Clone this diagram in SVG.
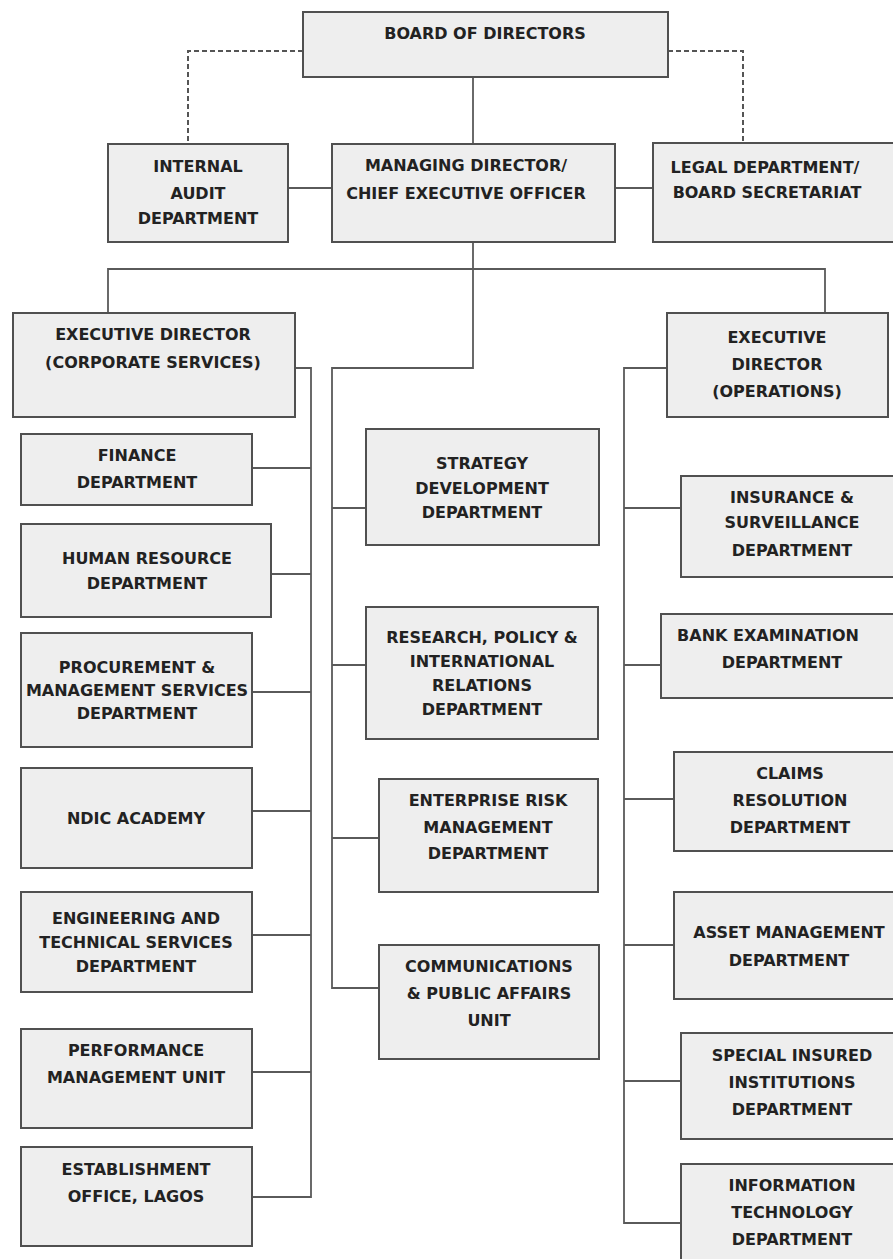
<svg xmlns="http://www.w3.org/2000/svg" width="893" height="1259" viewBox="0 0 893 1259">
<style>
.box{fill:#eeeeee;stroke:#505050;stroke-width:2}
.t{font-family:"DejaVu Sans","Verdana",sans-serif;font-weight:bold;font-size:16px;fill:#222;text-anchor:middle}
.c{fill:none;stroke:#5a5a5a;stroke-width:1.8}
.d{fill:none;stroke:#555;stroke-width:2;stroke-dasharray:5 3}
</style>
<rect width="893" height="1259" fill="#ffffff"/>
<g id="connectors">
<path class="d" d="M303,51 H188 V144"/>
<path class="d" d="M668,51 H743 V143"/>
<path class="c" d="M473,77 V144"/>
<path class="c" d="M288,188 H332"/>
<path class="c" d="M615,188 H653"/>
<path class="c" d="M473,242 V368 H332 V988 H379"/>
<path class="c" d="M108,313 V269 H825 V313"/>
<path class="c" d="M295,368 H311 V1197 H252"/>
<path class="c" d="M252,468 H311"/>
<path class="c" d="M271,574 H311"/>
<path class="c" d="M252,692 H311"/>
<path class="c" d="M252,811 H311"/>
<path class="c" d="M252,935 H311"/>
<path class="c" d="M252,1072 H311"/>
<path class="c" d="M332,508 H366"/>
<path class="c" d="M332,665 H366"/>
<path class="c" d="M332,838 H379"/>
<path class="c" d="M667,368 H624 V1223 H681"/>
<path class="c" d="M624,508 H681"/>
<path class="c" d="M624,665 H661"/>
<path class="c" d="M624,799 H674"/>
<path class="c" d="M624,945 H674"/>
<path class="c" d="M624,1081 H681"/>
</g>
<g id="board"><rect class="box" x="303" y="12" width="365" height="65"/><text class="t" x="485" y="39">BOARD OF DIRECTORS</text></g>
<g id="internal-audit"><rect class="box" x="108" y="144" width="180" height="98"/><text class="t" x="198" y="172">INTERNAL</text><text class="t" x="198" y="199">AUDIT</text><text class="t" x="198" y="224">DEPARTMENT</text></g>
<g id="md-ceo"><rect class="box" x="332" y="144" width="283" height="98"/><text class="t" x="466" y="171">MANAGING DIRECTOR/</text><text class="t" x="466" y="199">CHIEF EXECUTIVE OFFICER</text></g>
<g id="legal"><rect class="box" x="653" y="143" width="250" height="99"/><text class="t" x="765" y="173">LEGAL DEPARTMENT/</text><text class="t" x="767" y="198">BOARD SECRETARIAT</text></g>
<g id="ed-corporate"><rect class="box" x="13" y="313" width="282" height="104"/><text class="t" x="153" y="340">EXECUTIVE DIRECTOR</text><text class="t" x="153" y="368">(CORPORATE SERVICES)</text></g>
<g id="finance"><rect class="box" x="21" y="434" width="231" height="71"/><text class="t" x="137" y="461">FINANCE</text><text class="t" x="137" y="488">DEPARTMENT</text></g>
<g id="human-resource"><rect class="box" x="21" y="524" width="250" height="93"/><text class="t" x="147" y="564">HUMAN RESOURCE</text><text class="t" x="147" y="589">DEPARTMENT</text></g>
<g id="procurement"><rect class="box" x="21" y="633" width="231" height="114"/><text class="t" x="137" y="673">PROCUREMENT &amp;</text><text class="t" x="137" y="696">MANAGEMENT SERVICES</text><text class="t" x="137" y="719">DEPARTMENT</text></g>
<g id="ndic-academy"><rect class="box" x="21" y="768" width="231" height="100"/><text class="t" x="136" y="824">NDIC ACADEMY</text></g>
<g id="engineering"><rect class="box" x="21" y="892" width="231" height="100"/><text class="t" x="136" y="924">ENGINEERING AND</text><text class="t" x="136" y="948">TECHNICAL SERVICES</text><text class="t" x="136" y="972">DEPARTMENT</text></g>
<g id="performance"><rect class="box" x="21" y="1029" width="231" height="99"/><text class="t" x="136" y="1056">PERFORMANCE</text><text class="t" x="136" y="1083">MANAGEMENT UNIT</text></g>
<g id="establishment"><rect class="box" x="21" y="1147" width="231" height="99"/><text class="t" x="136" y="1175">ESTABLISHMENT</text><text class="t" x="136" y="1202">OFFICE, LAGOS</text></g>
<g id="strategy"><rect class="box" x="366" y="429" width="233" height="116"/><text class="t" x="482" y="469">STRATEGY</text><text class="t" x="482" y="494">DEVELOPMENT</text><text class="t" x="482" y="518">DEPARTMENT</text></g>
<g id="research"><rect class="box" x="366" y="607" width="232" height="132"/><text class="t" x="482" y="643">RESEARCH, POLICY &amp;</text><text class="t" x="482" y="667">INTERNATIONAL</text><text class="t" x="482" y="691">RELATIONS</text><text class="t" x="482" y="715">DEPARTMENT</text></g>
<g id="enterprise-risk"><rect class="box" x="379" y="779" width="219" height="113"/><text class="t" x="488" y="806">ENTERPRISE RISK</text><text class="t" x="488" y="833">MANAGEMENT</text><text class="t" x="488" y="859">DEPARTMENT</text></g>
<g id="communications"><rect class="box" x="379" y="945" width="220" height="114"/><text class="t" x="489" y="972">COMMUNICATIONS</text><text class="t" x="489" y="999">&amp; PUBLIC AFFAIRS</text><text class="t" x="489" y="1026">UNIT</text></g>
<g id="ed-operations"><rect class="box" x="667" y="313" width="221" height="104"/><text class="t" x="777" y="343">EXECUTIVE</text><text class="t" x="777" y="370">DIRECTOR</text><text class="t" x="777" y="397">(OPERATIONS)</text></g>
<g id="insurance"><rect class="box" x="681" y="476" width="222" height="101"/><text class="t" x="792" y="503">INSURANCE &amp;</text><text class="t" x="792" y="528">SURVEILLANCE</text><text class="t" x="792" y="556">DEPARTMENT</text></g>
<g id="bank-examination"><rect class="box" x="661" y="614" width="242" height="84"/><text class="t" x="768" y="641">BANK EXAMINATION</text><text class="t" x="782" y="668">DEPARTMENT</text></g>
<g id="claims"><rect class="box" x="674" y="752" width="229" height="99"/><text class="t" x="790" y="779">CLAIMS</text><text class="t" x="790" y="806">RESOLUTION</text><text class="t" x="790" y="833">DEPARTMENT</text></g>
<g id="asset-management"><rect class="box" x="674" y="892" width="229" height="107"/><text class="t" x="789" y="938">ASSET MANAGEMENT</text><text class="t" x="789" y="966">DEPARTMENT</text></g>
<g id="special-insured"><rect class="box" x="681" y="1033" width="222" height="106"/><text class="t" x="792" y="1061">SPECIAL INSURED</text><text class="t" x="792" y="1088">INSTITUTIONS</text><text class="t" x="792" y="1115">DEPARTMENT</text></g>
<g id="information-technology"><rect class="box" x="681" y="1164" width="222" height="110"/><text class="t" x="792" y="1191">INFORMATION</text><text class="t" x="792" y="1218">TECHNOLOGY</text><text class="t" x="792" y="1245">DEPARTMENT</text></g>
</svg>
